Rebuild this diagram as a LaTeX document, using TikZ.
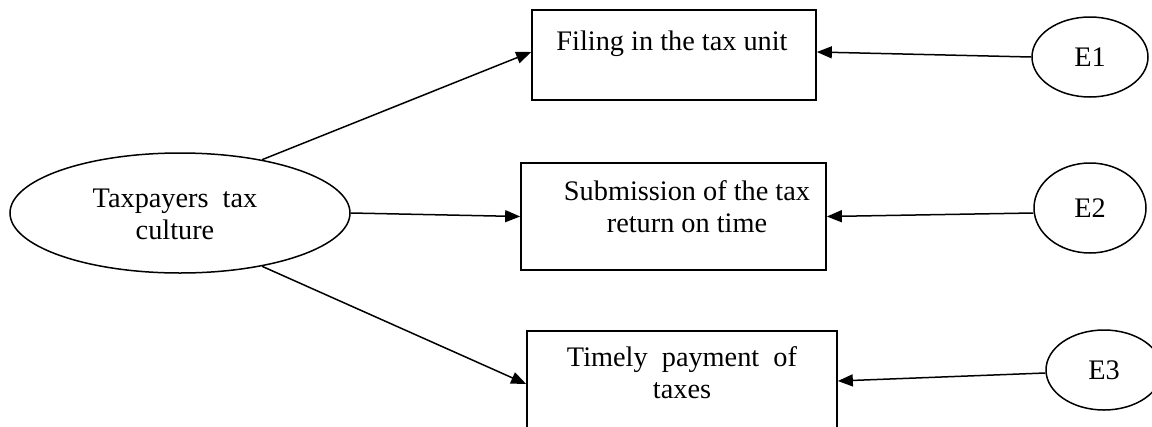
\documentclass[tikz,border=0pt]{standalone}
\usepackage{fontspec}
\setmainfont{Liberation Serif}
\usetikzlibrary{shapes.geometric,arrows.meta}
\tikzset{
  every picture/.style={x=1pt,y=-1pt},
  lbl/.style={font=\fontsize{28.3}{32}\selectfont, align=center, inner sep=0pt, anchor=base},
  boxnode/.style={draw, line width=1.7pt, rectangle, inner sep=0pt},
  ell/.style={draw, line width=1.5pt, ellipse, inner sep=0pt, font=\fontsize{28.3}{32}\selectfont, align=center},
  arr/.style={line width=1.5pt, -{Triangle[length=15pt,width=12pt]}}
}
\begin{document}
\begin{tikzpicture}
\clip (0,0) rectangle (1152,426);
\fill[white] (0,0) rectangle (1152,426);
% latent variable
\node[ell, minimum width=340pt, minimum height=120pt] (tax) at (180,213) {};
\node[lbl] (taxt) at (175,239) {Taxpayers\ \ tax\\culture};
% boxes
\node[boxnode, minimum width=284pt, minimum height=90pt] (b1) at (674,55) {};
\node[lbl] (b1t) at (672,50) {Filing in the tax unit};
\node[boxnode, minimum width=305pt, minimum height=107pt] (b2) at (673.5,216.5) {};
\node[lbl] (b2t) at (687,232) {Submission of the tax\\return on time};
\node[boxnode, minimum width=310pt, minimum height=140pt] (b3) at (682,401) {};
\node[lbl] (b3t) at (682,398) {Timely\ \ payment\ \ of\\taxes};
% error terms
\node[ell, minimum width=116pt, minimum height=80pt] (e1) at (1090,57) {E1};
\node[ell, minimum width=112pt, minimum height=90pt] (e2) at (1090,208) {E2};
\node[ell, minimum width=116pt, minimum height=80pt] (e3) at (1104,370) {E3};
% connectors
\draw[arr] (tax.33.5) -- ([yshift=3pt]b1.west);
\draw[arr] (tax.east) -- (b2.west);
\draw[arr] (tax.-33.5) -- ([yshift=17pt]b3.west);
\draw[arr] (e1.west) -- ([yshift=3pt]b1.east);
\draw[arr] ([yshift=-5pt]e2.west) -- (b2.east);
\draw[arr] ([yshift=-3pt]e3.west) -- ([yshift=20pt]b3.east);
\end{tikzpicture}
\end{document}
